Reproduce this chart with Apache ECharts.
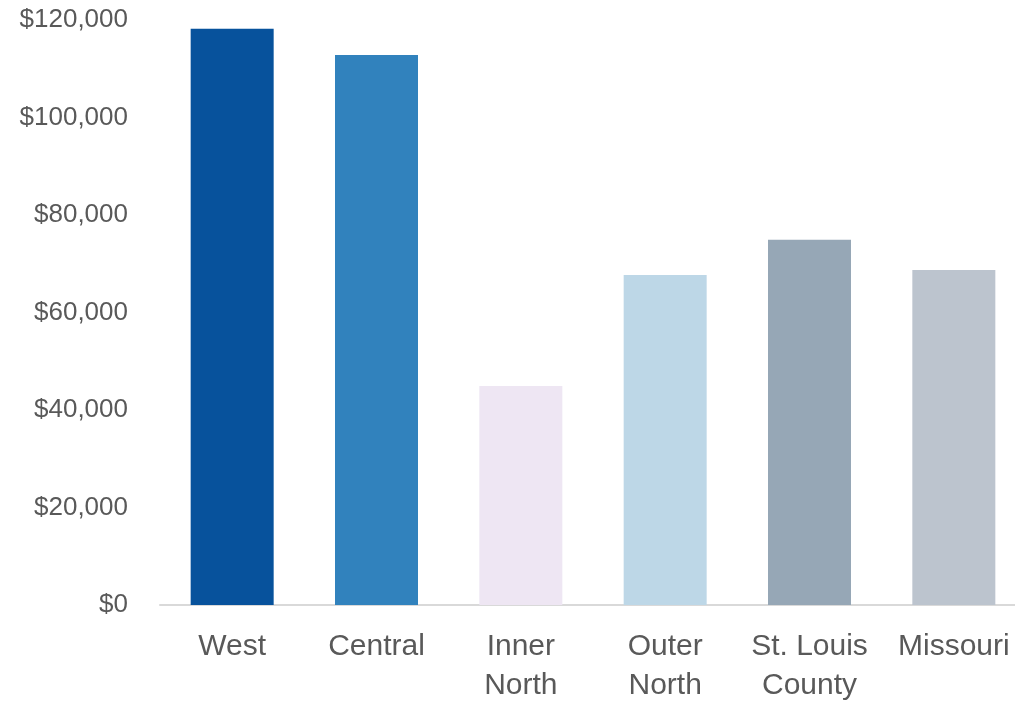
<!DOCTYPE html>
<html>
<head>
<meta charset="utf-8">
<script src="https://cdn.jsdelivr.net/npm/echarts@6/dist/echarts.min.js"></script>
<style>
  html, body { margin: 0; padding: 0; background: #ffffff; }
  #chart { width: 1015px; height: 702px; }
</style>
</head>
<body>
<div id="chart"></div>
<script>
// Median household income by region
const regions = ['West', 'Central', 'Inner\nNorth', 'Outer\nNorth', 'St. Louis\nCounty', 'Missouri'];
const incomes = [118200, 112800, 44900, 67700, 74900, 68700];
const barColors = ['#07529c', '#3182bd', '#eee6f3', '#bdd7e7', '#96a7b6', '#bcc4ce'];
const yTicks = { min: 0, max: 120000, step: 20000 };

const chart = echarts.init(document.getElementById('chart'), null, { renderer: 'canvas' });

const fmt = v => '$' + v.toLocaleString('en-US');

chart.setOption({
  animation: false,
  backgroundColor: '#ffffff',
  grid: {
    left: 160, right: -11, top: 20, bottom: 97,
    containLabel: false,
    outerBoundsMode: 'none'
  },
  xAxis: {
    type: 'category',
    data: regions,
    axisLine: { show: true, lineStyle: { color: '#d9d9d9', width: 2 } },
    axisTick: { show: false },
    axisLabel: {
      color: '#595959',
      fontFamily: 'Liberation Sans, Arial, sans-serif',
      fontSize: 30,
      lineHeight: 39,
      margin: 22,
      interval: 0
    }
  },
  yAxis: {
    type: 'value',
    min: yTicks.min,
    max: yTicks.max,
    interval: yTicks.step,
    axisLine: { show: false },
    axisTick: { show: false },
    splitLine: { show: false },
    axisLabel: {
      color: '#595959',
      fontFamily: 'Liberation Sans, Arial, sans-serif',
      fontSize: 26,
      margin: 32,
      formatter: fmt
    }
  },
  series: [{
    type: 'bar',
    barWidth: 83,
    data: incomes.map((v, i) => ({ value: v, itemStyle: { color: barColors[i] } }))
  }]
});
</script>
</body>
</html>
